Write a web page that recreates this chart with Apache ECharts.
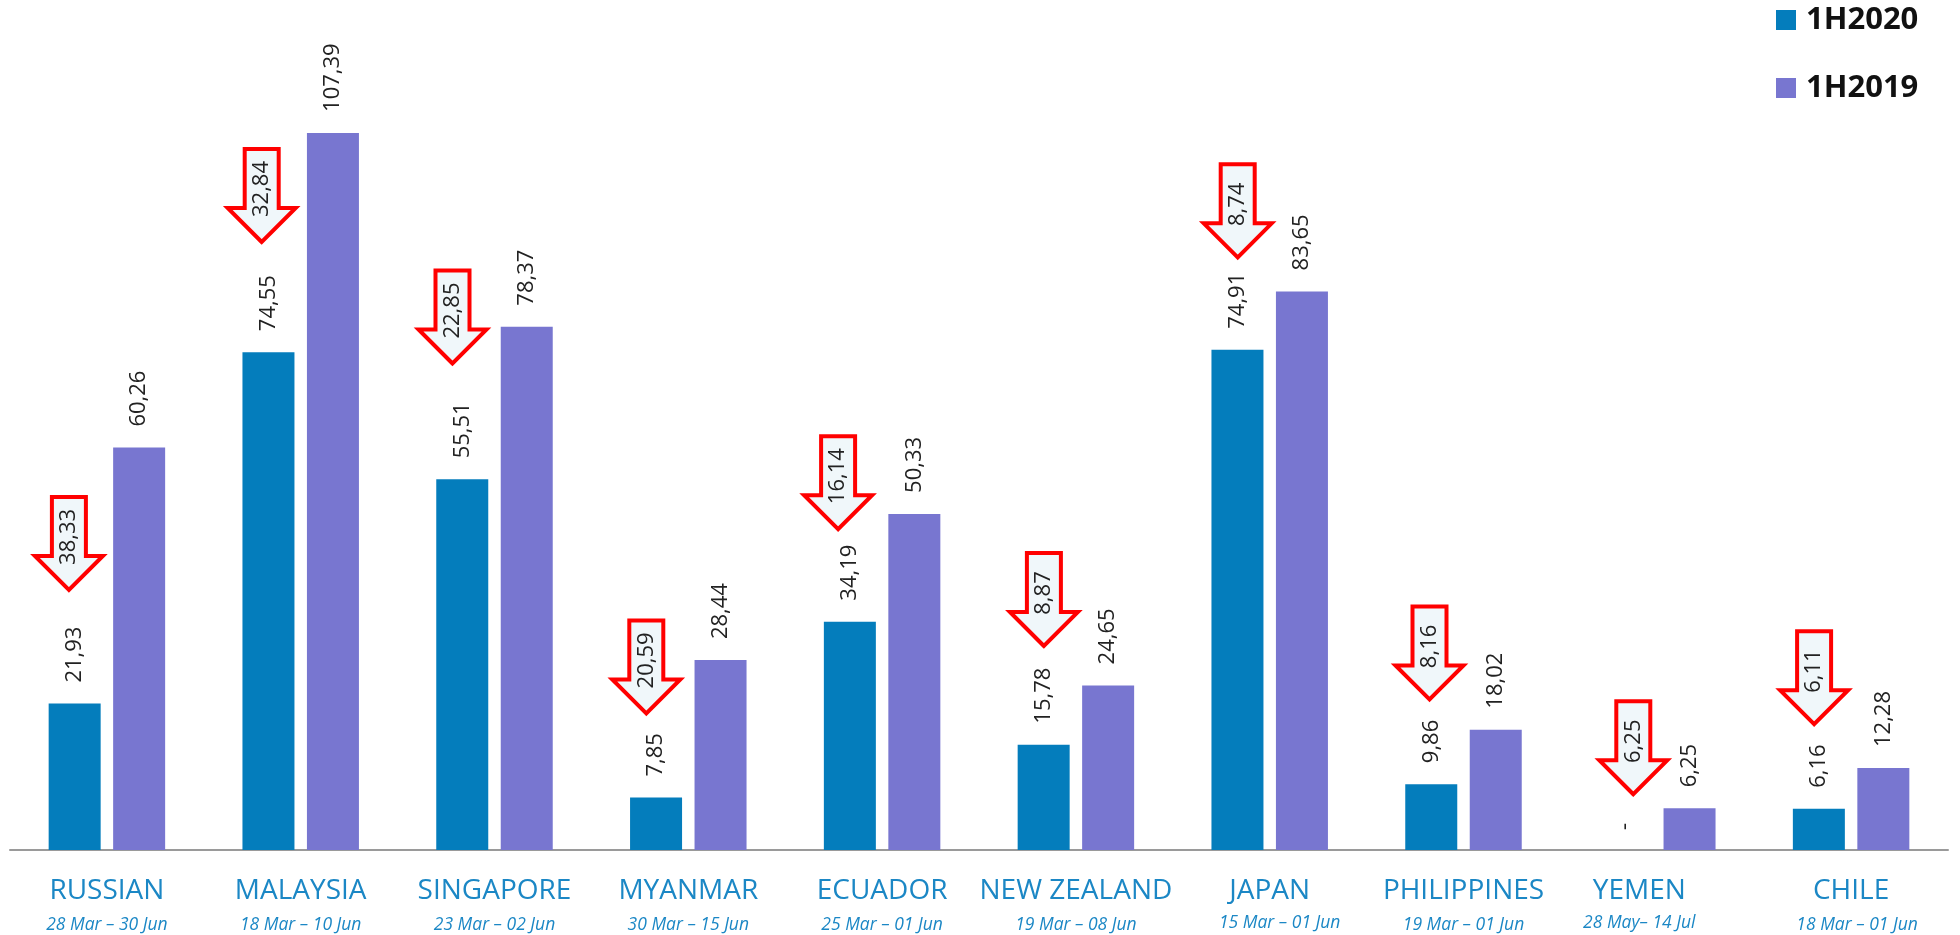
<!DOCTYPE html>
<html>
<head>
<meta charset="utf-8">
<title>1H2020 vs 1H2019</title>
<script src="https://cdn.jsdelivr.net/npm/echarts@6/dist/echarts.min.js"></script>
<style>
    html, body { margin: 0; padding: 0; background: #fff; }
    #char1 { width: 1960px; height: 935px; }
</style>
</head>
<body>
<div id="char1"></div>
<script>
var countries = ['RUSSIAN', 'MALAYSIA', 'SINGAPORE', 'MYANMAR', 'ECUADOR', 'NEW ZEALAND', 'JAPAN', 'PHILIPPINES', 'YEMEN', 'CHILE'];
var periods = ['28 Mar – 30 Jun', '18 Mar – 10 Jun', '23 Mar – 02 Jun', '30 Mar – 15 Jun', '25 Mar – 01 Jun', '19 Mar – 08 Jun', '15 Mar – 01 Jun', '19 Mar – 01 Jun', '28 May– 14 Jul', '18 Mar – 01 Jun'];
var values2020 = [21.93, 74.55, 55.51, 7.85, 34.19, 15.78, 74.91, 9.86, null, 6.16];
var values2019 = [60.26, 107.39, 78.37, 28.44, 50.33, 24.65, 83.65, 18.02, 6.25, 12.28];
var decreases = [38.33, 32.84, 22.85, 20.59, 16.14, 8.87, 8.74, 8.16, 6.25, 6.11];

// where the arrow tips sit, on the value scale
var arrowTips = [38.5, 90.6, 72.4, 20.0, 47.6, 30.1, 88.3, 22.1, 7.9, 18.4];
// arrows are not on a fixed spot in the group, px from category centre
var arrowShift = [-38, -39, -42, -42, -44, -32, -32, -34, -24, -37];

var axisMin = 0;
var axisMax = 121.3;

function fmt(v) {
    return v.toFixed(2).replace('.', ',');
}

function barData(list) {
    var out = [];
    for (var i = 0; i < list.length; i++) {
        if (list[i] === null) {
            // no value for this half year, the source prints a dash
            out.push({ value: 0, label: { formatter: '-', distance: 20 } });
        } else {
            out.push(list[i]);
        }
    }
    return out;
}

var arrowData = [];
for (var i = 0; i < decreases.length; i++) {
    arrowData.push([i, arrowTips[i], decreases[i], arrowShift[i]]);
}

function renderArrow(params, api) {
    var p = api.coord([api.value(0), api.value(1)]);
    var x = p[0] + api.value(3);
    var y = p[1] - 3;
    return {
        type: 'group',
        children: [
            {
                type: 'polygon',
                shape: {
                    points: [
                        [x, y],
                        [x - 34, y - 34],
                        [x - 17, y - 34],
                        [x - 17, y - 93],
                        [x + 17, y - 93],
                        [x + 17, y - 34],
                        [x + 34, y - 34]
                    ]
                },
                style: { fill: '#f0f7fa', stroke: '#ff0000', lineWidth: 4, lineJoin: 'miter' }
            },
            {
                type: 'text',
                x: x,
                y: y - 53,
                rotation: Math.PI / 2,
                style: {
                    text: fmt(api.value(2)),
                    font: '22px "Open Sans"',
                    fill: '#222222',
                    align: 'center',
                    verticalAlign: 'middle'
                }
            }
        ]
    };
}

var barLabel = {
    show: true,
    position: 'top',
    rotate: 90,
    distance: 21,
    align: 'left',
    verticalAlign: 'middle',
    fontFamily: 'Open Sans',
    fontSize: 22,
    color: '#222222',
    formatter: function (p) { return fmt(p.value); }
};

var myChart = echarts.init(document.getElementById('char1'));
var option = {
    backgroundColor: '#ffffff',
    animation: false,
    legend: {
        data: ['1H2020', '1H2019'],
        orient: 'vertical',
        left: 1771,
        top: -2,
        itemWidth: 20,
        itemHeight: 20,
        itemGap: 34,
        icon: 'rect',
        textStyle: {
            fontFamily: 'Open Sans',
            fontWeight: 'bold',
            fontSize: 31,
            lineHeight: 34,
            color: '#111111',
            padding: [0, 0, 0, 5]
        }
    },
    grid: { left: 10, right: 12, top: 40, bottom: 85 },
    xAxis: {
        type: 'category',
        data: countries,
        axisTick: { show: false },
        axisLine: { lineStyle: { color: '#9a9a9a', width: 2 } },
        axisLabel: {
            interval: 0,
            margin: 24,
            formatter: function (name, idx) {
                if (name === 'YEMEN') {
                    return '{nameYemen|' + name + '}\n{dateYemen|' + periods[idx] + '}';
                }
                if (name === 'JAPAN') {
                    return '{name|' + name + '}\n{dateJapan|' + periods[idx] + '}';
                }
                if (name === 'CHILE') {
                    return '{name|' + name + '}\n{dateChile|' + periods[idx] + '}';
                }
                return '{name|' + name + '}\n{date|' + periods[idx] + '}';
            },
            rich: {
                name: { fontFamily: 'Open Sans', fontSize: 28, color: '#1b87c5', lineHeight: 34 },
                date: { fontFamily: 'Open Sans', fontStyle: 'italic', fontSize: 17.5, color: '#1b87c5', lineHeight: 34 },
                nameYemen: { fontFamily: 'Open Sans', fontSize: 28, color: '#1b87c5', lineHeight: 34, padding: [0, 36, 0, 0] },
                dateYemen: { fontFamily: 'Open Sans', fontStyle: 'italic', fontSize: 17.5, color: '#1b87c5', lineHeight: 30, padding: [0, 36, 0, 0] },
                dateJapan: { fontFamily: 'Open Sans', fontStyle: 'italic', fontSize: 17.5, color: '#1b87c5', lineHeight: 30, padding: [0, 0, 0, 20] },
                dateChile: { fontFamily: 'Open Sans', fontStyle: 'italic', fontSize: 17.5, color: '#1b87c5', lineHeight: 34, padding: [0, 0, 0, 12] }
            }
        }
    },
    yAxis: {
        type: 'value',
        min: axisMin,
        max: axisMax,
        show: false,
        splitLine: { show: false }
    },
    series: [
        {
            name: '1H2020',
            type: 'bar',
            barWidth: 52,
            barGap: '24%',
            itemStyle: { color: '#047dbc' },
            label: barLabel,
            data: barData(values2020)
        },
        {
            name: '1H2019',
            type: 'bar',
            barWidth: 52,
            itemStyle: { color: '#7876d0' },
            label: barLabel,
            data: barData(values2019)
        },
        {
            name: 'decrease',
            type: 'custom',
            renderItem: renderArrow,
            clip: false,
            silent: true,
            z: 5,
            data: arrowData
        }
    ]
};
myChart.setOption(option);
window.addEventListener('resize', function () { myChart.resize(); })
</script>
</body>
</html>
